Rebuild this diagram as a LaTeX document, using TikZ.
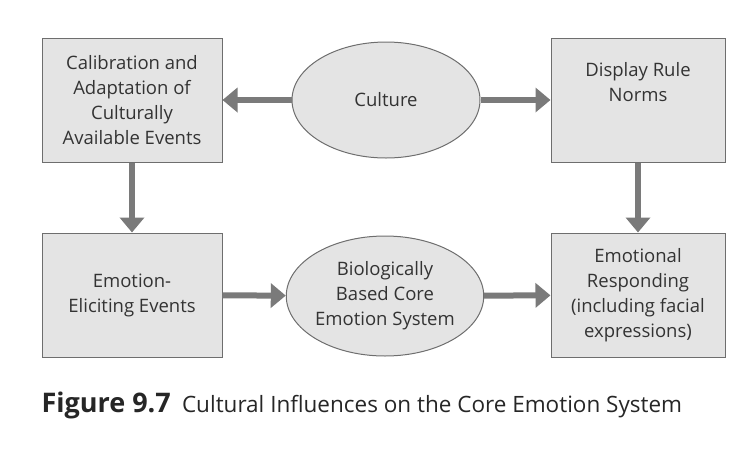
\documentclass[tikz,border=0pt]{standalone}
\usepackage{fontspec}
\setmainfont{Open Sans}
\usetikzlibrary{shapes.geometric,arrows.meta,positioning}
\definecolor{boxgray}{HTML}{E4E4E4}
\definecolor{edgegray}{HTML}{6E6E6E}
\definecolor{arrowgray}{HTML}{7A7A7A}
\tikzset{
  stagebox/.style={draw=edgegray, fill=boxgray, line width=1pt, minimum width=180pt, minimum height=124pt, align=center, inner sep=2pt, font=\fontsize{18.5}{25}\selectfont, text=black!80},
  corebubble/.style={ellipse, draw=edgegray, fill=boxgray, line width=1pt, minimum width=188pt, minimum height=116pt, inner sep=0pt, align=center, font=\fontsize{18.5}{25}\selectfont, text=black!80},
  flow/.style={draw=arrowgray, line width=6pt, -{Triangle[length=15pt,width=24pt]}}
}
\begin{document}
\begin{tikzpicture}[x=1pt,y=-1pt]
\useasboundingbox (0,0) rectangle (756,451);
\node (Calib) [stagebox] at (132,100) {Calibration and\\Adaptation of\\Culturally\\Available Events};
\node (Culture) [corebubble] at (386,100) {Culture};
\node (Display) [stagebox, minimum width=174pt] at (638,100) {Display Rule\\Norms\\[12pt]};
\node (Eliciting) [stagebox] at (132,295) {Emotion-\\Eliciting Events};
\node (Core) [corebubble, minimum height=120pt] at (385,296) {Biologically\\Based Core\\Emotion System};
\node (Respond) [stagebox, minimum width=174pt] at (638,295) {Emotional\\Responding\\(including facial\\expressions)};
\draw[flow] (Culture) -- (Calib);
\draw[flow] (Culture) -- (Display);
\draw[flow] (Calib) -- (Eliciting);
\draw[flow] (Display) -- (Respond);
\draw[flow] (Eliciting) -- (Core);
\draw[flow] (Core) -- (Respond);
\node (Caption) [anchor=west, font=\fontsize{22.5}{26}\selectfont, text=black!85] at (38,405) {\textbf{\fontsize{27}{27}\selectfont Figure 9.7}\enspace Cultural Influences on the Core Emotion System};
\end{tikzpicture}
\end{document}
